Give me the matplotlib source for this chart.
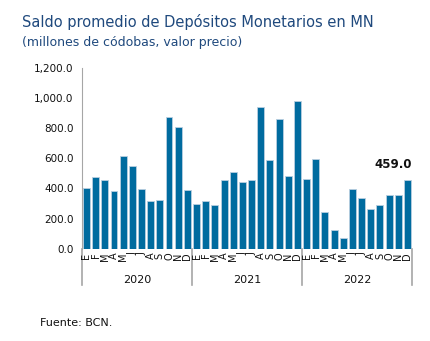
import matplotlib
matplotlib.use("Agg")
import matplotlib.pyplot as plt
from matplotlib.ticker import FuncFormatter
import matplotlib.transforms as mtransforms

years = ["2020", "2021", "2022"]
months = ["E", "F", "M", "A", "M", "J", "J", "A", "S", "O", "N", "D"]
saldo = [
    403, 478, 454, 381, 613, 549, 397, 320, 326, 873, 804, 388,   # 2020
    295, 320, 289, 454, 511, 441, 454, 941, 588, 859, 485, 976,   # 2021
    461, 595, 243, 128, 71, 394, 339, 267, 289, 357, 357, 459.0,  # 2022
]
yticks = [0, 200, 400, 600, 800, 1000, 1200]

fig = plt.figure(figsize=(4.31, 3.41), dpi=100)
ax = fig.add_axes([0.19, 0.27, 0.766, 0.532])

n = len(saldo)
x = list(range(n))
ax.bar(x, saldo, width=0.76, color="#006b9f", edgecolor="#b9cfe0", linewidth=0.6)

ax.set_xlim(-0.5, n - 0.5)
ax.set_ylim(0, 1200)
ax.set_yticks(yticks)
ax.yaxis.set_major_formatter(FuncFormatter(lambda v, p: f"{v:,.1f}"))
ax.tick_params(axis="y", length=0, pad=6, labelsize=7.5, labelcolor="#111111")
ax.set_xticks([])

for s in ["top", "right", "bottom"]:
    ax.spines[s].set_visible(False)
ax.spines["left"].set_color("#a6a6a6")

# month letters and year groups below the axis
trans = mtransforms.blended_transform_factory(ax.transData, ax.transAxes)
for i, v in enumerate(x):
    ax.text(v, -0.02, months[i % 12], transform=trans, rotation=90,
            ha="center", va="top", fontsize=7, color="#111111")
for k, yr in enumerate(years):
    ax.text(k * 12 + 5.5, -0.17, yr, transform=trans, ha="center", va="center",
            fontsize=8, color="#111111")
for b in [-0.5, 11.5, 23.5, 35.5]:
    ax.plot([b, b], [0, -0.2], transform=trans, color="#a6a6a6", lw=1.2, clip_on=False)

# value label on the last bar
ax.annotate(f"{saldo[-1]:.1f}", (x[-1] + 0.45, saldo[-1]), xytext=(0, 6), textcoords="offset points",
            ha="right", va="bottom", fontsize=8.5, fontweight="bold", color="#111111")

fig.text(0.05, 0.935, "Saldo promedio de Depósitos Monetarios en MN",
         fontsize=10.5, color="#1f497d", ha="left", va="center")
fig.text(0.05, 0.875, "(millones de códobas, valor precio)",
         fontsize=9, color="#1f497d", ha="left", va="center")
fig.text(0.093, 0.053, "Fuente: BCN.", fontsize=8, color="#111111", ha="left", va="center")

fig.savefig("out.png", dpi=100)
